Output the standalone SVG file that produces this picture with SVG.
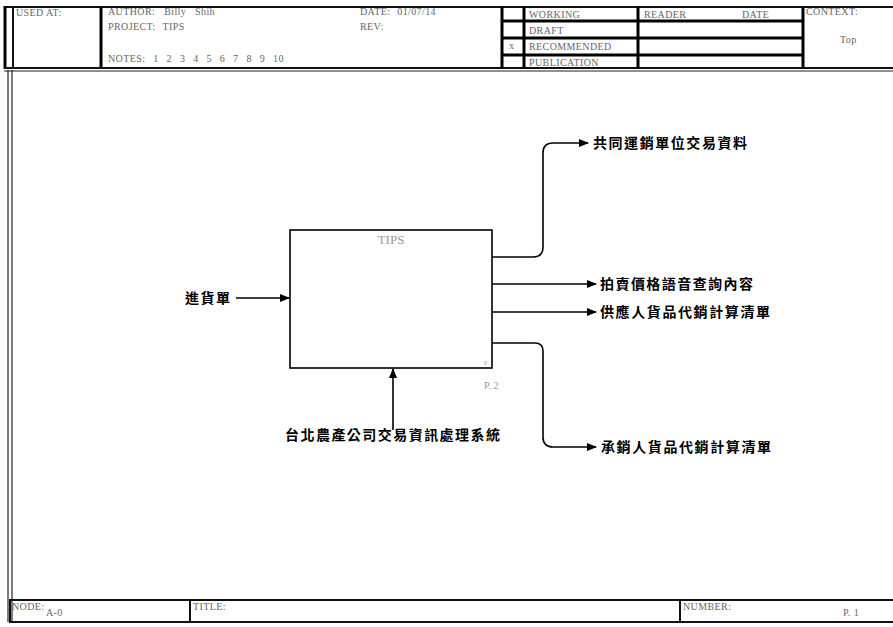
<svg xmlns="http://www.w3.org/2000/svg" width="893" height="627" viewBox="0 0 893 627">
<defs>
<style>
.frame{fill:none;stroke:#111;stroke-width:2}
.thick{fill:none;stroke:#000;stroke-width:3}
.thin{fill:none;stroke:#222;stroke-width:1.2}
.hdr{font-family:"Liberation Serif",serif;font-size:10px;fill:#666;letter-spacing:0.4px}
.lbl{font-family:"Noto Sans CJK TC","Noto Sans CJK SC",sans-serif;font-size:14px;font-weight:bold;fill:#000}
.gray{font-family:"Liberation Serif",serif;fill:#999}
.conn{fill:none;stroke:#000;stroke-width:1.6}
</style>
<marker id="ah" markerWidth="10" markerHeight="8" refX="9" refY="4" orient="auto" markerUnits="userSpaceOnUse">
<path d="M0,0 L10,4 L0,8 Z" fill="#000"/>
</marker>
</defs>
<rect width="893" height="627" fill="#fff"/>

<g id="header">
<line x1="4" y1="7" x2="893" y2="7" class="frame"/>
<line x1="5" y1="6" x2="5" y2="69" class="thick"/>
<line x1="13" y1="7" x2="13" y2="69" class="frame"/>
<line x1="101" y1="7" x2="101" y2="69" class="thick"/>
<line x1="4" y1="68" x2="893" y2="68" class="frame"/>
<line x1="4" y1="71" x2="893" y2="71" class="thin"/>
<line x1="502" y1="7" x2="502" y2="69" class="thick"/>
<line x1="524" y1="7" x2="524" y2="69" class="thick"/>
<line x1="638" y1="7" x2="638" y2="69" class="thick"/>
<line x1="803" y1="7" x2="803" y2="69" class="thick"/>
<line x1="502" y1="21" x2="803" y2="21" class="thick"/>
<line x1="502" y1="38" x2="803" y2="38" class="thick"/>
<line x1="502" y1="55" x2="803" y2="55" class="thick"/>
<text class="hdr" x="16" y="16">USED AT:</text>
<text class="hdr" x="108" y="15" word-spacing="6">AUTHOR: Billy Shih</text>
<text class="hdr" x="108" y="30" word-spacing="4">PROJECT: TIPS</text>
<text class="hdr" x="108" y="62" word-spacing="5">NOTES: 1 2 3 4 5 6 7 8 9 10</text>
<text class="hdr" x="360" y="15" word-spacing="4">DATE: 01/07/14</text>
<text class="hdr" x="360" y="30">REV:</text>
<text class="hdr" x="509" y="49">x</text>
<text class="hdr" x="529" y="18">WORKING</text>
<text class="hdr" x="529" y="34">DRAFT</text>
<text class="hdr" x="529" y="50">RECOMMENDED</text>
<text class="hdr" x="529" y="66">PUBLICATION</text>
<text class="hdr" x="644" y="18">READER</text>
<text class="hdr" x="742" y="18">DATE</text>
<text class="hdr" x="806" y="15">CONTEXT:</text>
<text class="hdr" x="840" y="43">Top</text>
</g>

<g id="frame">
<line x1="8" y1="70" x2="8" y2="622" class="thin"/>
<line x1="12" y1="70" x2="12" y2="622" class="thin"/>
</g>

<g id="footer">
<rect x="10" y="600" width="885" height="22" class="frame"/>
<line x1="190" y1="600" x2="190" y2="622" class="frame"/>
<line x1="680" y1="600" x2="680" y2="622" class="frame"/>
<text class="hdr" x="12" y="610" font-size="9" letter-spacing="0">NODE:</text>
<text class="hdr" x="46" y="616">A-0</text>
<text class="hdr" x="193" y="610">TITLE:</text>
<text class="hdr" x="683" y="610">NUMBER:</text>
<text class="hdr" x="843" y="616">P. 1</text>
</g>

<g id="node-TIPS">
<rect x="290" y="230" width="202" height="138" fill="#fff" stroke="#000" stroke-width="1.6"/>
<text class="gray" x="391" y="244" font-size="13" text-anchor="middle">TIPS</text>
<text class="gray" x="484" y="365" font-size="6">0</text>
<text class="gray" x="484" y="389" font-size="10">P. 2</text>
</g>

<g id="connectors">
<path class="conn" d="M236,298 H289" marker-end="url(#ah)"/>
<path class="conn" d="M393,430 V369" marker-end="url(#ah)"/>
<path class="conn" d="M492,257 H533 Q543,257 543,247 V153 Q543,143 553,143 H588" marker-end="url(#ah)"/>
<path class="conn" d="M492,284 H596" marker-end="url(#ah)"/>
<path class="conn" d="M492,312 H596" marker-end="url(#ah)"/>
<path class="conn" d="M492,343 H535 Q543,343 543,351 V437 Q543,447 553,447 H596" marker-end="url(#ah)"/>
</g>

<g id="labels">
<text class="lbl" x="185" y="303" textLength="45" lengthAdjust="spacing">進貨單</text>
<text class="lbl" x="285" y="440" textLength="215" lengthAdjust="spacing">台北農產公司交易資訊處理系統</text>
<text class="lbl" x="593" y="148" textLength="154" lengthAdjust="spacing">共同運銷單位交易資料</text>
<text class="lbl" x="600" y="289" textLength="153" lengthAdjust="spacing">拍賣價格語音查詢內容</text>
<text class="lbl" x="600" y="317" textLength="170" lengthAdjust="spacing">供應人貨品代銷計算清單</text>
<text class="lbl" x="601" y="452" textLength="170" lengthAdjust="spacing">承銷人貨品代銷計算清單</text>
</g>
</svg>
